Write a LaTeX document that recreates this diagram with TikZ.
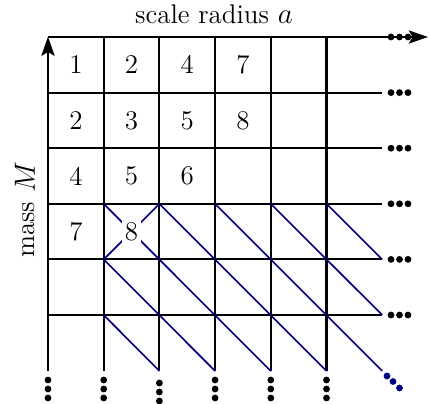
\documentclass[tikz,border=0pt]{standalone}
\usetikzlibrary{arrows.meta}
\definecolor{diag}{RGB}{0,0,128}
\begin{document}
\begin{tikzpicture}[x=0.4926pt,y=-0.4926pt,
  gridline/.style={line width=1.05pt,black},
  diagline/.style={line width=0.8pt,diag},
  axisarrow/.style={line width=1.05pt,-{Stealth[length=9.5pt,width=6.5pt,inset=2pt]}},
  dotmark/.style={fill=black,draw=none},
  num/.style={inner sep=0pt,font=\fontsize{13.3pt}{16pt}\selectfont},
  lbl/.style={inner sep=0pt,font=\fontsize{13.3pt}{16pt}\selectfont}]
\useasboundingbox (0,0) rectangle (429,404);
% grid coordinates
\foreach \i/\x in {0/48,1/103.7,2/159.4,3/215.1,4/270.8,5/326.5,6/382.2}{
  \foreach \j/\y in {0/37,1/92.6,2/148.2,3/203.8,4/259.4,5/315,6/371}{
    \coordinate (p-\i-\j) at (\x,\y);
  }
}
\coordinate (xend) at (428,37);
% axes
\draw[gridline,axisarrow] (p-0-0) -- (xend);
\draw[gridline,axisarrow] (p-0-6) -- ([yshift=0.2pt]p-0-0);
% other horizontal lines
\foreach \j in {1,...,5}{\draw[gridline] (p-0-\j) -- (p-6-\j);}
% other vertical lines
\foreach \i in {1,...,5}{\draw[gridline] (p-\i-0) -- (p-\i-6);}
% diagonals
\draw[diagline] (p-1-3) -- (p-4-6);
\draw[diagline] (p-2-3) -- (p-5-6);
\draw[diagline] (p-3-3) -- (p-6-6);
\draw[diagline] (p-4-3) -- (p-6-5);
\draw[diagline] (p-5-3) -- (p-6-4);
\draw[diagline] (p-1-4) -- (p-3-6);
\draw[diagline] (p-1-5) -- (p-2-6);
\draw[diagline] (p-2-3) -- (p-1-4);
% numbers
\foreach \r/\c/\v in {0/0/1,0/1/2,0/2/4,0/3/7,1/0/2,1/1/3,1/2/5,1/3/8,2/0/4,2/1/5,2/2/6,3/0/7}{
  \node[num] (n-\r-\c) at (75.9+55.7*\c,64.8+55.6*\r) {\v};
}
\node[num,fill=white,inner sep=1.2pt] (n-3-1) at (131.5,231.6) {8};
% labels
\node[lbl] (xlabel) at (214,14) {scale radius $a$};
\node[lbl,rotate=90] (ylabel) at (25,210) {mass $M$};
% row dots
\foreach \j/\y in {0/37,1/92.6,2/148.2,3/203.8,4/259.4,5/315}{
  \foreach \x in {391,399.5,408}{\fill[dotmark] (\x,\y) circle (3.4);}
}
% column dots
\foreach \x/\o in {48/0,103.7/0,159.4/3,215.1/0,270.8/0,326.5/0}{
  \foreach \y in {380,389,398}{\fill[dotmark] (\x,\y+\o) circle (3.4);}
}
% diagonal dots
\foreach \x/\y in {387/376,393/381.5,399.5/388}{\fill[diag] (\x,\y) circle (3.4);}
\end{tikzpicture}
\end{document}
